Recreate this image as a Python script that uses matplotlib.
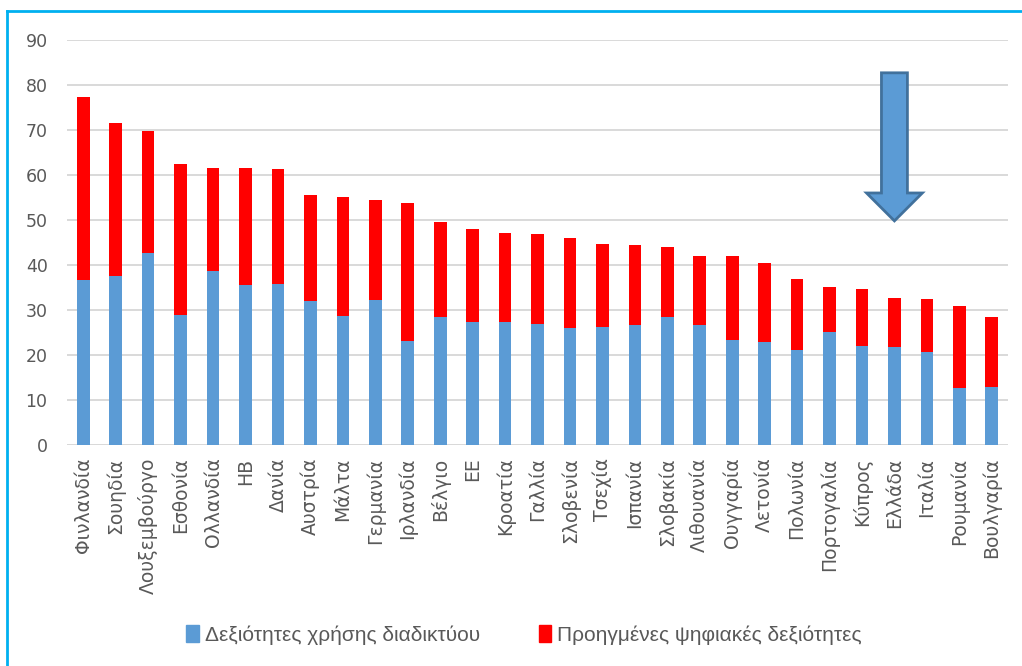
import matplotlib.pyplot as plt
import numpy as np
from matplotlib.lines import Line2D
from matplotlib.patches import Polygon, Patch

plt.rcParams['font.family'] = ['DejaVu Sans']

countries = ["Φινλανδία", "Σουηδία", "Λουξεμβούργο", "Εσθονία", "Ολλανδία", "ΗΒ",
             "Δανία", "Αυστρία", "Μάλτα", "Γερμανία", "Ιρλανδία", "Βέλγιο", "ΕΕ",
             "Κροατία", "Γαλλία", "Σλοβενία", "Τσεχία", "Ισπανία", "Σλοβακία",
             "Λιθουανία", "Ουγγαρία", "Λετονία", "Πολωνία", "Πορτογαλία", "Κύπρος",
             "Ελλάδα", "Ιταλία", "Ρουμανία", "Βουλγαρία"]
internet_skills = [36.7, 37.6, 42.6, 29.0, 38.7, 35.5, 35.7, 32.1, 28.7, 32.2,
                   23.1, 28.4, 27.3, 27.4, 26.9, 25.9, 26.3, 26.7, 28.5, 26.7,
                   23.3, 22.9, 21.1, 25.1, 22.1, 21.8, 20.7, 12.6, 12.8]
totals = [77.4, 71.5, 69.8, 62.4, 61.6, 61.5, 61.3, 55.6, 55.0, 54.4,
          53.7, 49.5, 47.9, 47.0, 46.9, 46.1, 44.7, 44.4, 44.1, 42.1,
          42.0, 40.4, 36.8, 35.1, 34.6, 32.6, 32.4, 31.0, 28.4]
advanced_skills = [t - b for t, b in zip(totals, internet_skills)]

BLUE = "#5B9BD5"
RED = "#FF0000"

fig = plt.figure(figsize=(10.22, 6.66), dpi=100)
ax = fig.add_axes([0.0656, 0.3318, 0.9207, 0.6082])

x = np.arange(len(countries))
ax.bar(x, internet_skills, width=0.39, color=BLUE, zorder=2)
ax.bar(x, advanced_skills, width=0.39, bottom=internet_skills, color=RED, zorder=2)

ax.set_xlim(-0.5, len(countries) - 0.5)
ax.set_ylim(0, 90)
ax.set_yticks(np.arange(0, 91, 10))
ax.yaxis.grid(True, color="#D9D9D9", lw=1.4, zorder=0)
ax.set_axisbelow(True)
for s in ax.spines.values():
    s.set_visible(False)
ax.axhline(0, color="#D9D9D9", lw=1.4, zorder=1)
ax.tick_params(axis="y", length=0, pad=14, labelsize=12.5, labelcolor="#595959")
ax.tick_params(axis="x", length=0, pad=9, labelsize=13.5, labelcolor="#595959")
ax.set_xticks(x)
ax.set_xticklabels(countries, rotation=90)

# block arrow pointing at Greece
gx = countries.index("Ελλάδα")
shaft, head = 0.40, 0.86
arrow = Polygon([(gx - shaft, 82.7), (gx + shaft, 82.7), (gx + shaft, 56.0),
                 (gx + head, 56.0), (gx, 49.8), (gx - head, 56.0),
                 (gx - shaft, 56.0)],
                closed=True, facecolor=BLUE, edgecolor="#41719C", lw=2, zorder=3)
ax.add_patch(arrow)

handles = [Patch(color=BLUE, label="Δεξιότητες χρήσης διαδικτύου"),
           Patch(color=RED, label="Προηγμένες ψηφιακές δεξιότητες")]
fig.legend(handles=handles, loc="center", bbox_to_anchor=(0.513, 1 - 635 / 666),
           ncol=2, frameon=False, handlelength=0.6, handleheight=0.9,
           handletextpad=0.3, columnspacing=2.8, labelcolor="#595959",
           prop={"family": "Liberation Sans", "size": 15})

# frame lines along the left and top edge
fig.add_artist(Line2D([7 / 1022, 7 / 1022], [0, 1 - 11 / 666],
                      transform=fig.transFigure, color="#00B0F0", lw=2))
fig.add_artist(Line2D([7 / 1022, 1], [1 - 11 / 666, 1 - 11 / 666],
                      transform=fig.transFigure, color="#00B0F0", lw=2))

fig.savefig("out.png", dpi=100)
